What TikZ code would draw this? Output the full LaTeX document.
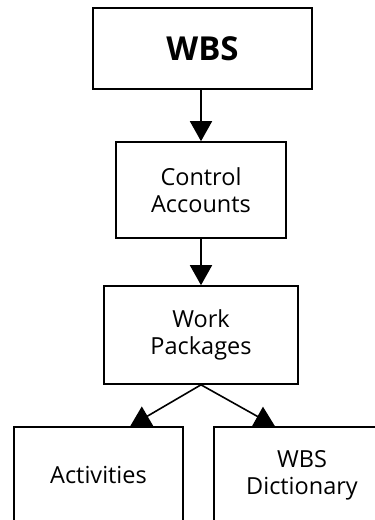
\documentclass[tikz,border=0pt]{standalone}
\usepackage{fontspec}
\setmainfont{Open Sans}
\usetikzlibrary{arrows.meta}
\begin{document}
\begin{tikzpicture}[x=1pt,y=-1pt,
  box/.style={draw=black, line width=1.6pt, align=center, inner sep=0pt,
    font=\fontsize{23.5}{27}\selectfont},
  link/.style={line width=1.6pt, -{Triangle[length=20pt,width=22pt]}}]
  \useasboundingbox (0,0) rectangle (375,520);
  \clip (0,0) rectangle (375,520);
  \node[box, minimum width=219pt, minimum height=81pt,
        font=\fontsize{33}{40}\selectfont\bfseries] (wbs) at (202.5,48.5) {WBS};
  \node[box, minimum width=170pt, minimum height=96pt] (ca) at (201,190) {Control\\Accounts};
  \node[box, minimum width=194pt, minimum height=98pt] (wp) at (201,335) {Work\\Packages};
  \node[box, minimum width=169pt, minimum height=96pt] (act) at (98.5,475) {Activities};
  \node[box, minimum width=176pt, minimum height=96pt] (dict) at (302,475) {WBS\\Dictionary};
  \draw[link] (ca.north |- wbs.south) -- (ca.north);
  \draw[link] (ca.south) -- (wp.north);
  \draw[link] (wp.south) -- (act.57);
  \draw[link] (wp.south) -- (dict.119);
\end{tikzpicture}
\end{document}
